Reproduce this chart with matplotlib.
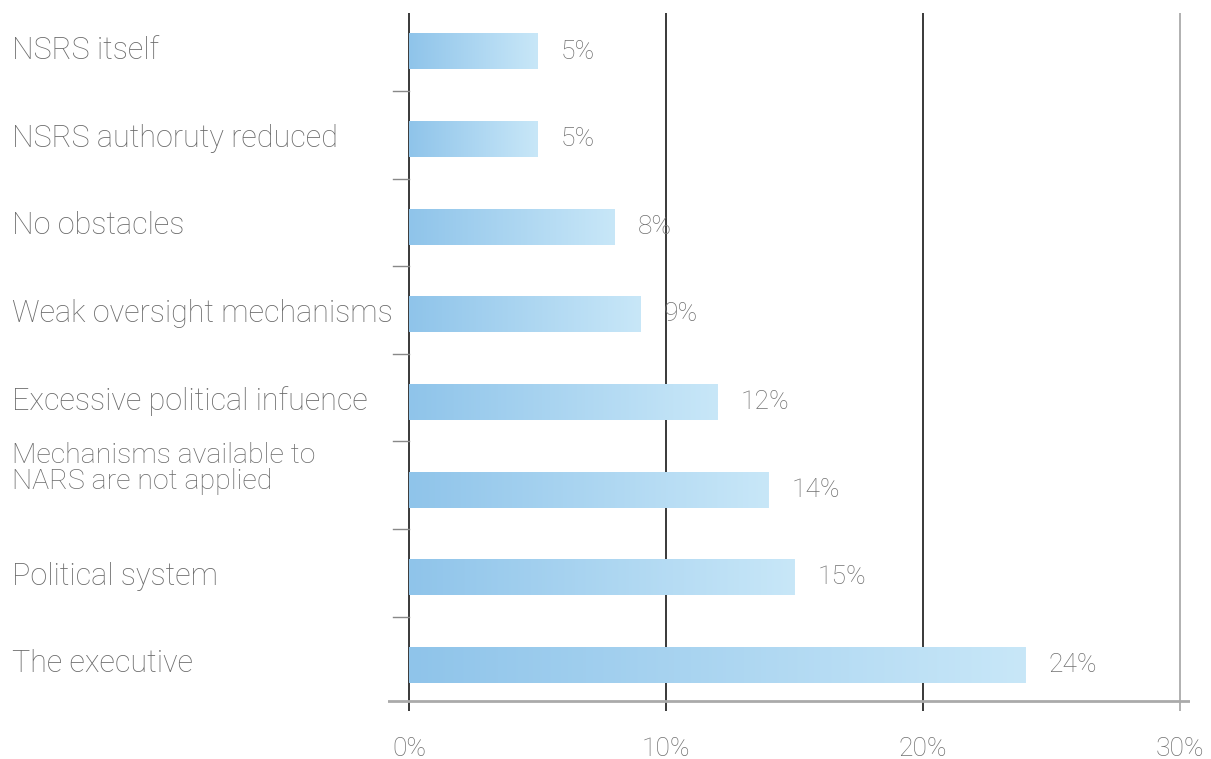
import matplotlib.pyplot as plt
import numpy as np
from matplotlib.colors import LinearSegmentedColormap
from matplotlib.transforms import blended_transform_factory

categories = [
    "NSRS itself",
    "NSRS authoruty reduced",
    "No obstacles",
    "Weak oversight mechanisms",
    "Excessive political infuence",
    "Mechanisms available to\nNARS are not applied",
    "Political system",
    "The executive",
]
values = [5, 5, 8, 9, 12, 14, 15, 24]
xticks = [0, 10, 20, 30]
xtick_labels = ["0%", "10%", "20%", "30%"]

plt.rcParams["font.family"] = ["Roboto", "DejaVu Sans"]

fig = plt.figure(figsize=(12.11, 7.59), dpi=100)
ax = fig.add_axes([0.3204, 0.0632, 0.6623, 0.9197])
ax.set_xlim(-0.817, 30.39)
ax.set_ylim(7.528, -0.44)
ax.axis("off")

bar_cmap = LinearSegmentedColormap.from_list("bar", ["#8fc4ea", "#c8e7f8"])
gradient = np.linspace(0, 1, 256).reshape(1, -1)
bar_h = 0.41
txt_gray = "#6a6a6a"
num_gray = "#707070"

# vertical grid: dark at 0/10/20, light at 30
for x, c in zip(xticks, ["#2a2a2a", "#2a2a2a", "#2a2a2a", "#aaaaaa"]):
    ax.plot([x, x], [-0.44, 7.528], color=c, lw=1.3, zorder=1)

for i, v in enumerate(values):
    ax.imshow(gradient, cmap=bar_cmap, aspect="auto", interpolation="bilinear",
              extent=[0, v, i + bar_h / 2, i - bar_h / 2], zorder=2)
    ax.text(v + 0.9, i, f"{v}%", va="center", ha="left", fontsize=19,
            color=num_gray, fontweight="light")

# category separators on the y axis
for i in range(len(values) - 1):
    ax.plot([-0.62, 0], [i + 0.45, i + 0.45], color="#888888", lw=1, zorder=1)

# bottom axis line
ax.plot([-0.817, 30.39], [7.41, 7.41], color="#aaaaaa", lw=2, zorder=3)

for x, lab in zip(xticks, xtick_labels):
    ax.text(x, 7.96, lab, ha="center", va="center", fontsize=19,
            color=num_gray, fontweight="light", clip_on=False)

trans = blended_transform_factory(fig.transFigure, ax.transData)
for i, cat in enumerate(categories):
    if "\n" in cat:
        ax.text(12 / 1211, i - 0.24, cat, transform=trans, ha="left", va="center",
                fontsize=20.5, color=txt_gray, fontweight="light", linespacing=0.95)
    else:
        ax.text(12 / 1211, i - 0.01, cat, transform=trans, ha="left", va="center",
                fontsize=22, color=txt_gray, fontweight="light")

fig.savefig("out.png", dpi=100)
